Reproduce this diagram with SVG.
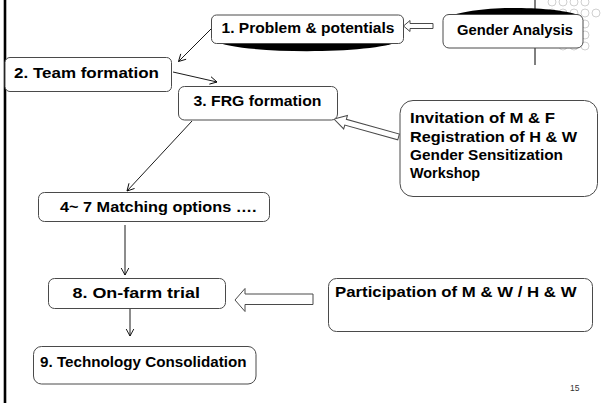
<svg xmlns="http://www.w3.org/2000/svg" width="608" height="403" viewBox="0 0 608 403">
  <style>
    .box { fill: #ffffff; stroke: #4a4a4a; stroke-width: 1; }
    .lbl { font-family: "Liberation Sans", Arial, sans-serif; font-weight: bold; font-size: 15px; fill: #000000; }
    .link { fill: none; stroke: #000000; stroke-width: 0.9; }
    .hollow { fill: #ffffff; stroke: #4a4a4a; stroke-width: 1; }
    .dot { fill: none; stroke: #c4c4c4; stroke-width: 0.8; }
    .shade { fill: #000000; }
  </style>
  <defs>
    <marker id="open" markerUnits="userSpaceOnUse" markerWidth="12" markerHeight="12" viewBox="-10 -6 12 12" refX="0" refY="0" orient="auto">
      <path d="M-7,-3.8 L0,0 L-7,3.8" fill="none" stroke="#000000" stroke-width="0.9"/>
    </marker>
  </defs>

  <rect x="0" y="0" width="608" height="403" fill="#ffffff"/>

  <!-- corner ornament: grid of small rings -->
  <g id="ornament">
    <circle class="dot" cx="552" cy="2" r="4"/>
    <circle class="dot" cx="563" cy="2" r="4"/>
    <circle class="dot" cx="574" cy="2" r="4"/>
    <circle class="dot" cx="585" cy="2" r="4"/>
    <circle class="dot" cx="552" cy="13" r="4"/>
    <circle class="dot" cx="563" cy="13" r="4"/>
    <circle class="dot" cx="574" cy="13" r="4"/>
    <circle class="dot" cx="585" cy="13" r="4"/>
    <circle class="dot" cx="596" cy="13" r="4"/>
    <circle class="dot" cx="552" cy="24" r="4"/>
    <circle class="dot" cx="563" cy="24" r="4"/>
    <circle class="dot" cx="574" cy="24" r="4"/>
    <circle class="dot" cx="585" cy="24" r="4"/>
    <circle class="dot" cx="552" cy="35" r="4"/>
    <circle class="dot" cx="563" cy="35" r="4"/>
    <circle class="dot" cx="574" cy="35" r="4"/>
    <circle class="dot" cx="585" cy="35" r="4"/>
    <circle class="dot" cx="563" cy="46" r="4"/>
    <circle class="dot" cx="574" cy="46" r="4"/>
    <circle class="dot" cx="585" cy="46" r="4"/>
  </g>

  <!-- page rules -->
  <line x1="5" y1="0" x2="5" y2="403" stroke="#000000" stroke-width="2.6"/>
  <line x1="535" y1="0" x2="535" y2="65" stroke="#000000" stroke-width="1"/>

  <g id="connectors">
    <line class="link" x1="212" y1="28" x2="178.5" y2="61.5" marker-end="url(#open)"/>
    <line class="link" x1="173" y1="72" x2="217" y2="82" marker-end="url(#open)"/>
    <line class="link" x1="192" y1="121" x2="127" y2="191" marker-end="url(#open)"/>
    <line class="link" x1="125" y1="225" x2="125" y2="275" marker-end="url(#open)"/>
    <line class="link" x1="130" y1="308.5" x2="130" y2="336" marker-end="url(#open)"/>
    <!-- block arrows -->
    <polygon class="hollow" points="403.5,26 410,20.5 410,23.5 433,23.5 433,28.5 410,28.5 410,31.5"/>
    <g transform="translate(334 119) rotate(15.5)">
      <polygon class="hollow" points="0,0 12,-7 12,-3 67,-3 67,3 12,3 12,7"/>
    </g>
    <polygon class="hollow" points="235,300 245,288.5 245,294 313,294 313,304.5 245,304.5 245,311.5"/>
  </g>

  <g id="n1">
    <path class="shade" d="M214,41 C240,54.5 374,54.5 400,41 Z"/>
    <rect class="box" x="211.5" y="15" width="192" height="28.5" rx="5"/>
    <text class="lbl" x="221.5" y="33" textLength="173" lengthAdjust="spacingAndGlyphs">1. Problem &amp; potentials</text>
  </g>

  <g id="gender">
    <path class="shade" d="M446,18 C470,5 556,5 581,16 Z"/>
    <rect class="box" x="443" y="14.5" width="140" height="33.5" rx="6"/>
    <text class="lbl" x="457" y="35" textLength="116" lengthAdjust="spacingAndGlyphs">Gender Analysis</text>
  </g>

  <g id="n2">
    <rect class="box" x="5" y="57.5" width="166.5" height="34" rx="5"/>
    <text class="lbl" x="14" y="77.5" textLength="145" lengthAdjust="spacingAndGlyphs">2.  Team formation</text>
  </g>

  <g id="n3">
    <rect class="box" x="178.5" y="86.5" width="159" height="33.5" rx="6"/>
    <text class="lbl" x="193.5" y="106" textLength="128" lengthAdjust="spacingAndGlyphs">3. FRG formation</text>
  </g>

  <g id="invitation">
    <rect class="box" x="400" y="100.5" width="197.5" height="96" rx="13"/>
    <text class="lbl" x="410" y="123" textLength="145" lengthAdjust="spacingAndGlyphs">Invitation of M &amp; F</text>
    <text class="lbl" x="410" y="141.5" textLength="167" lengthAdjust="spacingAndGlyphs">Registration of H &amp; W</text>
    <text class="lbl" x="410" y="160" textLength="153" lengthAdjust="spacingAndGlyphs">Gender Sensitization</text>
    <text class="lbl" x="410" y="177.5" textLength="70" lengthAdjust="spacingAndGlyphs">Workshop</text>
  </g>

  <g id="n4">
    <rect class="box" x="38.5" y="192.5" width="231" height="29" rx="6"/>
    <text class="lbl" x="60" y="211.5" textLength="196.5" lengthAdjust="spacingAndGlyphs">4~ 7 Matching options ….</text>
  </g>

  <g id="n8">
    <rect class="box" x="48.5" y="278.5" width="177" height="30" rx="6"/>
    <text class="lbl" x="72.5" y="298" textLength="127.5" lengthAdjust="spacingAndGlyphs">8. On-farm trial</text>
  </g>

  <g id="participation">
    <rect class="box" x="328.5" y="278.5" width="264" height="53" rx="8"/>
    <text class="lbl" x="335" y="296.5" textLength="241.5" lengthAdjust="spacingAndGlyphs">Participation of M &amp; W / H &amp; W</text>
  </g>

  <g id="n9">
    <rect class="box" x="33.5" y="346.5" width="222.5" height="37.5" rx="8"/>
    <text class="lbl" x="40" y="366.5" textLength="206.5" lengthAdjust="spacingAndGlyphs">9. Technology Consolidation</text>
  </g>

  <text x="570" y="391" font-family="Liberation Sans, Arial, sans-serif" font-size="8.5" fill="#333333">15</text>
</svg>
